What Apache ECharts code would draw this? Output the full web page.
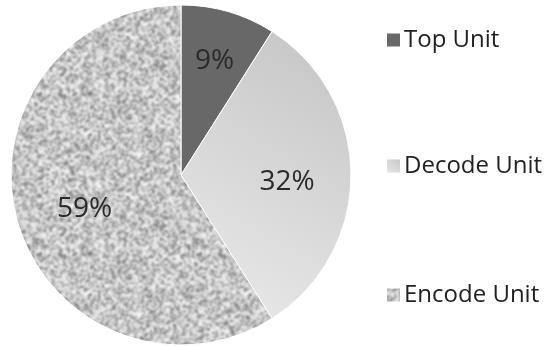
<!DOCTYPE html>
<html><head><meta charset="utf-8">
<script src="https://cdn.jsdelivr.net/npm/echarts@6/dist/echarts.min.js"></script>
<style>html,body{margin:0;padding:0;background:#fff}#c{width:547px;height:347px}</style>
</head><body><div id="c"></div>
<script>
const categories = ['Top Unit', 'Decode Unit', 'Encode Unit'];
const values = [9, 32, 59];
const labels = ['9%', '32%', '59%'];

// deterministic (seeded hash), blurred noise texture for the Encode slice
function makeNoise() {
  const n = 160;
  const raw = document.createElement('canvas');
  raw.width = n; raw.height = n;
  const ctx = raw.getContext('2d');
  let a = 0x9e3779b9;
  function rnd() {
    a |= 0; a = (a + 0x6D2B79F5) | 0;
    let t = Math.imul(a ^ (a >>> 15), 1 | a);
    t = (t + Math.imul(t ^ (t >>> 7), 61 | t)) ^ t;
    return ((t ^ (t >>> 14)) >>> 0) / 4294967296;
  }
  for (let y = 0; y < n; y += 2) {
    for (let x = 0; x < n; x += 2) {
      const v = Math.round(100 + Math.pow(rnd(), 0.6) * 155);
      ctx.fillStyle = 'rgb(' + v + ',' + v + ',' + v + ')';
      ctx.fillRect(x, y, 2, 2);
    }
  }
  const cv = document.createElement('canvas');
  cv.width = n; cv.height = n;
  const c2 = cv.getContext('2d');
  c2.fillStyle = '#c8c8c8';
  c2.fillRect(0, 0, n, n);
  c2.filter = 'blur(0.8px)';
  for (let dx = -1; dx <= 1; dx++) for (let dy = -1; dy <= 1; dy++) {
    c2.drawImage(raw, dx * n, dy * n);
  }
  c2.filter = 'none';
  return cv;
}
const noise = makeNoise();

const colors = [
  '#686868',
  new echarts.graphic.LinearGradient(1, 0, 0, 1, [{offset: 0, color: '#c4c4c4'}, {offset: 1, color: '#ebebeb'}]),
  {image: noise, repeat: 'repeat'}
];
const offsets = [[9, -29], [18, 7], [-12, 9]];

const chart = echarts.init(document.getElementById('c'), null, {renderer: 'canvas'});
const legendTops = [23, 149, 278];
const legendFont = {fontFamily: 'Open Sans', fontSize: 24, color: '#222', padding: [0, 0, 0, -2]};
chart.setOption({
  animation: false,
  legend: categories.map((c, i) => ({
    data: [c], orient: 'vertical', left: 380, top: legendTops[i],
    itemWidth: 15, itemHeight: 15, itemGap: 0,
    textStyle: legendFont, icon: 'rect'
  })),
  series: [{
    type: 'pie',
    center: [181, 175],
    radius: 170,
    startAngle: 90,
    clockwise: true,
    itemStyle: {borderColor: '#fff', borderWidth: 1},
    label: {
      show: true, position: 'inside',
      fontFamily: 'Open Sans', fontSize: 28, color: '#2a2a2a',
      formatter: p => labels[p.dataIndex]
    },
    labelLine: {show: false},
    data: categories.map((c, i) => ({
      name: c, value: values[i],
      itemStyle: {color: colors[i]},
      label: {offset: offsets[i]}
    }))
  }]
});
</script></body></html>
